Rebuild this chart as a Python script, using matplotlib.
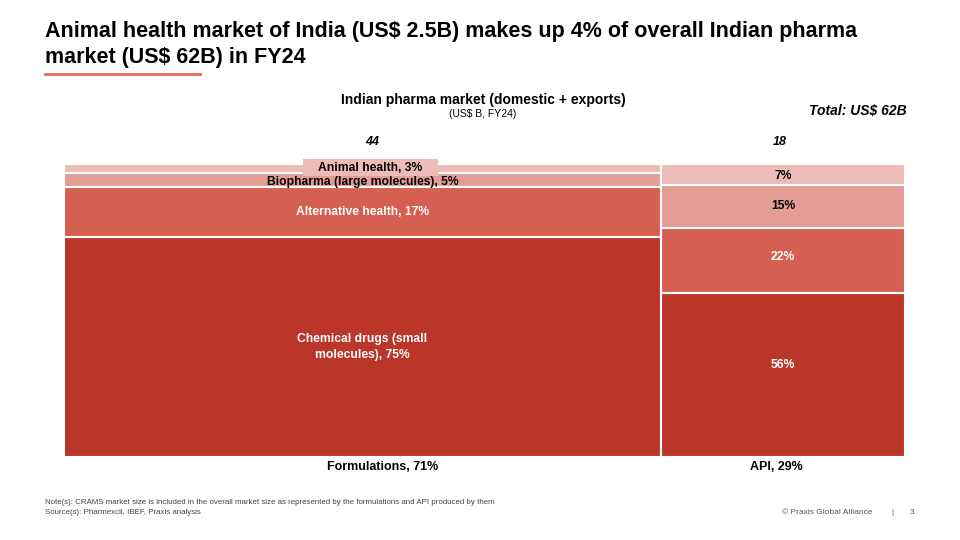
import matplotlib.pyplot as plt
import numpy as np

plt.rcParams['font.family'] = ['Liberation Sans', 'DejaVu Sans']

columns = ['Formulations', 'API']
col_sizes = [44, 18]  # US$ B
col_share = [71, 29]

# shares within each column, bottom to top
form_names = ['Chemical drugs (small\nmolecules)', 'Alternative health',
              'Biopharma (large molecules)', 'Animal health']
form_share = [75, 17, 5, 3]
api_share = [56, 22, 15, 7]

colors = ['#B93628', '#D55F51', '#E39D95', '#EDBCB7']
text_cols = ['white', 'white', 'black', 'black']

fig = plt.figure(figsize=(9.6, 5.4), dpi=100)
W, H = 960, 540

def fx(px):
    return px / W

def fy(py):
    return 1 - py / H

# title
fig.text(fx(45), fy(32), 'Animal health market of India (US$ 2.5B) makes up 4% of overall Indian pharma',
         fontsize=15.5, fontweight='bold', va='center', ha='left')
fig.text(fx(45), fy(57), 'market (US$ 62B) in FY24',
         fontsize=15.5, fontweight='bold', va='center', ha='left')
fig.add_artist(plt.Line2D([fx(45), fx(200)], [fy(74), fy(74)], color='#E8675A', lw=2))

fig.text(fx(483), fy(100), 'Indian pharma market (domestic + exports)',
         fontsize=10, fontweight='bold', ha='center', va='center')
fig.text(fx(483), fy(114), '(US$ B, FY24)', fontsize=7.5, ha='center', va='center')
fig.text(fx(907), fy(111), 'Total: US$ 62B', fontsize=10, fontweight='bold',
         style='italic', ha='right', va='center')

ax = fig.add_axes([fx(64), fy(457), fx(905) - fx(64), fy(164) - fy(457)])
ax.set_xlim(0, sum(col_sizes))
ax.set_ylim(0, 100)
ax.axis('off')

# small horizontal nudges for the header/footer labels (in US$ B units)
top_shift = [0.7, -0.2]
bot_shift = [1.5, -0.5]

lefts = np.cumsum([0] + col_sizes[:-1])
for i, (shares, lbls) in enumerate([(form_share, form_names), (api_share, [None] * 4)]):
    x0 = lefts[i]
    w = col_sizes[i]
    bottom = 0
    for j, s in enumerate(shares):
        ax.bar(x0, s, width=w, bottom=bottom, align='edge', color=colors[j],
               edgecolor='white', linewidth=1.5)
        xtxt = x0 + w / 2
        ytxt = bottom + s / 2
        lab = f'{s}%' if lbls[j] is None else f'{lbls[j]}, {s}%'
        kw = {}
        if i == 0 and j == 3:
            lab = '    ' + lab + '    '
            xtxt += 0.6
            ytxt = bottom + s / 2 + 0.3
            kw['bbox'] = dict(boxstyle='square,pad=0.2', fc=colors[3], ec='none')
        if i == 0 and j == 2:
            ytxt = bottom + s / 2 - 0.5
        if i == 1 and j < 2:
            ytxt = bottom + s * 0.56
        if i == 1 and j == 3:
            ytxt = bottom + s * 0.4
        ax.text(xtxt, ytxt, lab, ha='center', va='center', fontsize=8.7,
                fontweight='bold', color=text_cols[j], linespacing=1.5, **kw)
        bottom += s
    ax.text(x0 + w / 2 + top_shift[i], 107.5, str(col_sizes[i]), ha='center', va='center',
            fontsize=9, fontweight='bold', style='italic', clip_on=False)
    ax.text(x0 + w / 2 + bot_shift[i], -3.5, f'{columns[i]}, {col_share[i]}%', ha='center',
            va='center', fontsize=9, fontweight='bold', clip_on=False)

# footer
fig.text(fx(45), fy(503), 'Note(s): CRAMS market size is included in the overall market size as represented by the formulations and API produced by them',
         fontsize=5.7, color='#444444', va='center')
fig.text(fx(45), fy(512), 'Source(s): Pharmexcil, IBEF, Praxis analysis',
         fontsize=5.7, color='#444444', va='center')
fig.text(fx(872), fy(512), '\u00a9 Praxis Global Alliance', fontsize=6, color='#555555',
         ha='right', va='center')
fig.text(fx(892), fy(512), '|', fontsize=6, color='#555555', ha='center', va='center')
fig.text(fx(912), fy(512), '3', fontsize=6, color='#555555', ha='center', va='center')

fig.savefig('out.png', dpi=100)
